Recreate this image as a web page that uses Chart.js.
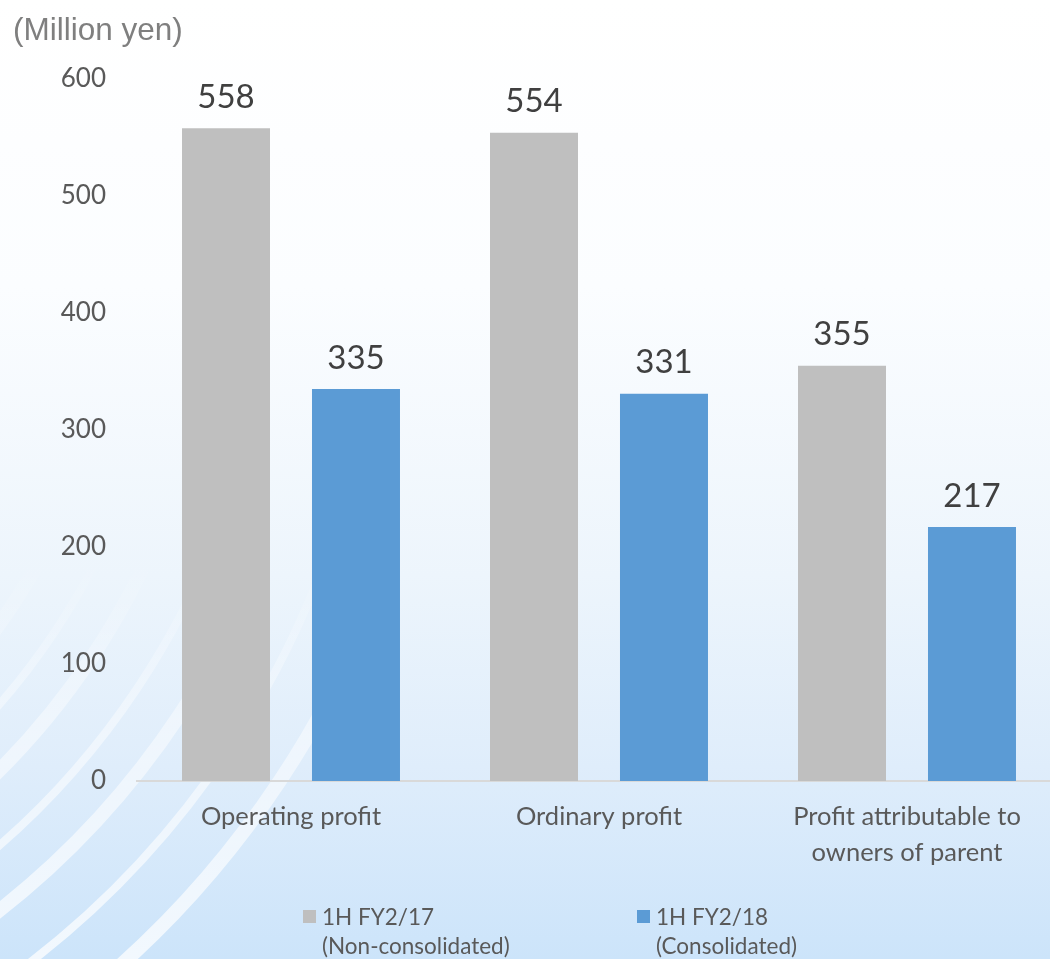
<!DOCTYPE html>
<html>
<head>
<meta charset="utf-8">
<script src="https://cdn.jsdelivr.net/npm/chart.js@4/dist/chart.umd.min.js"></script>
<style>
  html, body { margin: 0; padding: 0; }
  body { width: 1050px; height: 959px; position: relative; overflow: hidden; background: #fff; }
  #wrap { position: absolute; left: 0; top: 0; width: 1050px; height: 959px; overflow: hidden; }
  #unit {
    position: absolute; left: 13px; top: 11px;
    font-family: 'Liberation Sans', Arial, sans-serif; font-size: 31.5px; color: #7f7f7f;
  }
  .leg {
    position: absolute; top: 902px;
    font-family: Lato, sans-serif; font-size: 22.5px; color: #595959; line-height: 29px;
  }
  .leg .box { position: absolute; left: 0; top: 8px; width: 13px; height: 13px; }
  .leg .txt { margin-left: 19px; }
</style>
</head>
<body>
<div id="wrap"><canvas id="chart" width="1061" height="959"></canvas></div>
<div id="unit">(Million yen)</div>
<div class="leg" style="left:303px"><span class="box" style="background:#bfbfbf"></span><div class="txt">1H FY2/17<br>(Non-consolidated)</div></div>
<div class="leg" style="left:637px"><span class="box" style="background:#5b9bd5"></span><div class="txt">1H FY2/18<br>(Consolidated)</div></div>
<script>
// Dane
const categories = [
    'Operating profit',
    'Ordinary profit',
    ['Profit attributable to', 'owners of parent']
];
const seriesNames = ['1H FY2/17 (Non-consolidated)', '1H FY2/18 (Consolidated)'];
const prevValues = [558, 554, 355];
const currValues = [335, 331, 217];
const yTicks = [0, 100, 200, 300, 400, 500, 600];

const COLORS = {
    gray: '#bfbfbf',
    blue: '#5b9bd5',
    text: '#595959',
    label: '#404040',
    axis: '#d9d9d9'
};

const FONT = "Lato, 'Open Sans', sans-serif";

// Tło: gradient + jasne łuki w lewym dolnym rogu
const backgroundPlugin = {
    id: 'bg',
    beforeDraw(chart) {
        const ctx = chart.ctx;
        const w = chart.width, h = chart.height;
        ctx.save();
        const g = ctx.createLinearGradient(0, 0, 0, h);
        g.addColorStop(0, '#ffffff');
        g.addColorStop(0.3, '#fbfdff');
        g.addColorStop(0.6, '#edf5fc');
        g.addColorStop(0.8, '#dfedfb');
        g.addColorStop(1, '#cce4fa');
        ctx.fillStyle = g;
        ctx.fillRect(0, 0, w, h);

        const sg = ctx.createLinearGradient(0, 560, 0, h);
        sg.addColorStop(0, 'rgba(255,255,255,0)');
        sg.addColorStop(0.4, 'rgba(255,255,255,0.45)');
        sg.addColorStop(1, 'rgba(255,255,255,0.75)');
        ctx.strokeStyle = sg;
        const cx = -520, cy = 250;
        [600, 640, 690, 735, 790, 840, 900, 960].forEach((r, i) => {
            ctx.lineWidth = i % 2 ? 14 : 8;
            ctx.beginPath();
            ctx.arc(cx, cy, r, -0.2, Math.PI / 2);
            ctx.stroke();
        });
        ctx.restore();
    }
};

// Etykiety wartości nad słupkami
const valueLabels = {
    id: 'valueLabels',
    afterDatasetsDraw(chart) {
        const ctx = chart.ctx;
        ctx.save();
        ctx.font = '33px ' + FONT;
        ctx.fillStyle = COLORS.label;
        ctx.textAlign = 'center';
        ctx.textBaseline = 'middle';
        chart.data.datasets.forEach((ds, i) => {
            chart.getDatasetMeta(i).data.forEach((bar, j) => {
                ctx.fillText(String(ds.data[j]), bar.x, bar.y - 31);
            });
        });
        ctx.restore();
    }
};

new Chart(document.getElementById('chart'), {
    type: 'bar',
    data: {
        labels: categories,
        datasets: [
            { label: seriesNames[0], data: prevValues, backgroundColor: COLORS.gray },
            { label: seriesNames[1], data: currValues, backgroundColor: COLORS.blue }
        ]
    },
    options: {
        responsive: false,
        animation: false,
        devicePixelRatio: 1,
        layout: { padding: { top: 79, right: 0, left: 0, bottom: 0 } },
        datasets: { bar: { categoryPercentage: 0.844, barPercentage: 0.677 } },
        plugins: { legend: { display: false }, tooltip: { enabled: false } },
        scales: {
            x: {
                grid: { display: false, drawTicks: false },
                border: { color: COLORS.axis, width: 2 },
                ticks: {
                    color: COLORS.text,
                    font: { family: FONT, size: 25.5, lineHeight: 1.4 },
                    padding: 18,
                    maxRotation: 0
                },
                afterFit(scale) {
                    scale.height = 178;
                    scale.paddingLeft = 0;
                    scale.paddingRight = 0;
                }
            },
            y: {
                min: 0,
                max: 600,
                afterBuildTicks(scale) { scale.ticks = yTicks.map(v => ({ value: v })); },
                grid: { display: false, drawTicks: false },
                border: { display: false },
                ticks: {
                    color: COLORS.text,
                    font: { family: FONT, size: 26 },
                    padding: 31
                },
                afterFit(scale) { scale.width = 137; }
            }
        }
    },
    plugins: [backgroundPlugin, valueLabels]
});
</script>
</body>
</html>
